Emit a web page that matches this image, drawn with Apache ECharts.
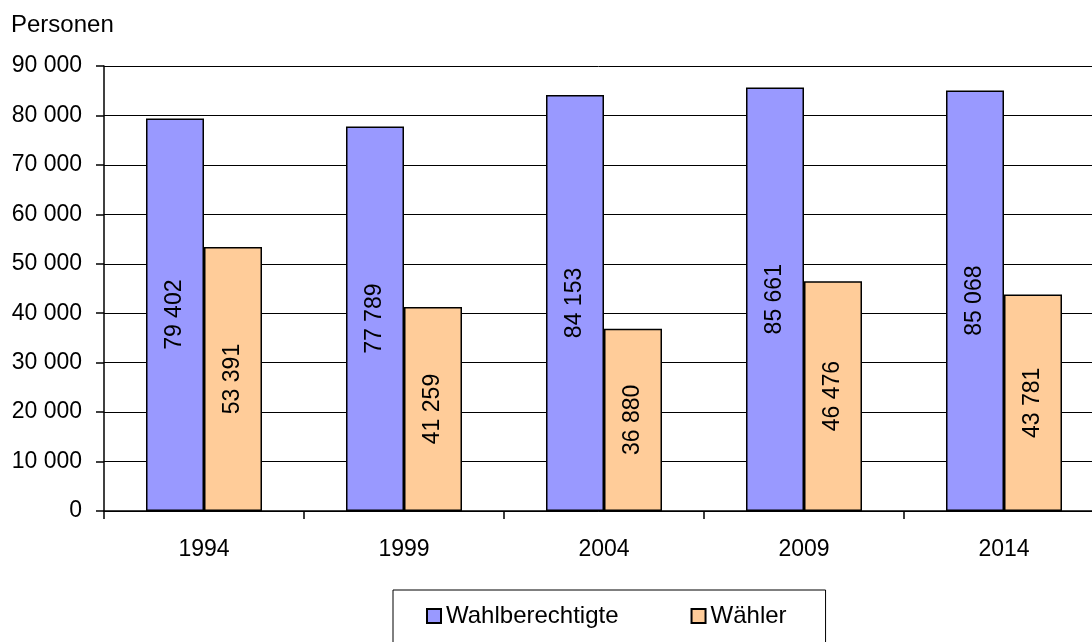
<!DOCTYPE html>
<html lang="de">
<head>
    <meta charset="UTF-8">
    <title>Wahlberechtigte und Wähler</title>
    <script src="https://cdn.jsdelivr.net/npm/echarts/dist/echarts.min.js"></script>
    <style>
        html, body { margin: 0; padding: 0; background: #fff; }
        #chart { width: 1092px; height: 642px; }
    </style>
</head>
<body>
    <div id="chart"></div>
    <script>
        var years = ['1994', '1999', '2004', '2009', '2014'];
        var wahlberechtigte = [79402, 77789, 84153, 85661, 85068];
        var waehler = [53391, 41259, 36880, 46476, 43781];

        var font = 'Liberation Sans, Arial, sans-serif';

        function fmt(v) {
            return String(v).replace(/\B(?=(\d{3})+(?!\d))/g, ' ');
        }

        var chart = echarts.init(document.getElementById('chart'));

        var barLabel = {
            show: true,
            position: 'inside',
            rotate: 90,
            color: '#000',
            fontFamily: font,
            fontSize: 23,
            formatter: function (p) { return fmt(p.value); }
        };

        var option = {
            animation: false,
            title: {
                text: 'Personen',
                left: 6,
                top: 8,
                textStyle: { fontFamily: font, fontSize: 24, fontWeight: 'normal', color: '#000' }
            },
            // plot runs past the right edge in the original, so let it overflow
            grid: { left: 104, width: 1000, top: 66, bottom: 131, outerBoundsMode: 'none' },
            legend: {
                top: 590,
                left: 393,
                data: ['Wahlberechtigte', 'Wähler'],
                icon: 'rect',
                itemWidth: 14,
                itemHeight: 14,
                itemGap: 72,
                padding: [14, 39, 20, 33],
                borderColor: '#000',
                borderWidth: 1,
                textStyle: { fontFamily: font, fontSize: 24, color: '#000' }
            },
            xAxis: {
                type: 'category',
                data: years,
                axisLine: { lineStyle: { color: '#000', width: 1.5 } },
                axisTick: { show: true, length: 8, lineStyle: { color: '#000', width: 1.5 } },
                axisLabel: { color: '#000', fontFamily: font, fontSize: 23, margin: 27 }
            },
            yAxis: {
                type: 'value',
                min: 0,
                max: 90000,
                interval: 10000,
                axisLine: { show: true, lineStyle: { color: '#000', width: 1.5 } },
                axisTick: { show: true, length: 8, lineStyle: { color: '#000', width: 1.5 } },
                splitLine: { lineStyle: { color: '#000', width: 1 } },
                axisLabel: {
                    color: '#000', fontFamily: font, fontSize: 23, margin: 22,
                    formatter: fmt
                }
            },
            series: [
                {
                    name: 'Wahlberechtigte',
                    type: 'bar',
                    data: wahlberechtigte,
                    barGap: '0%',
                    barCategoryGap: '42%',
                    itemStyle: { color: '#9999FF', borderColor: '#000', borderWidth: 1.5 },
                    label: barLabel
                },
                {
                    name: 'Wähler',
                    type: 'bar',
                    data: waehler,
                    itemStyle: { color: '#FFCC99', borderColor: '#000', borderWidth: 1.5 },
                    label: barLabel
                }
            ]
        };

        chart.setOption(option);
    </script>
</body>
</html>
